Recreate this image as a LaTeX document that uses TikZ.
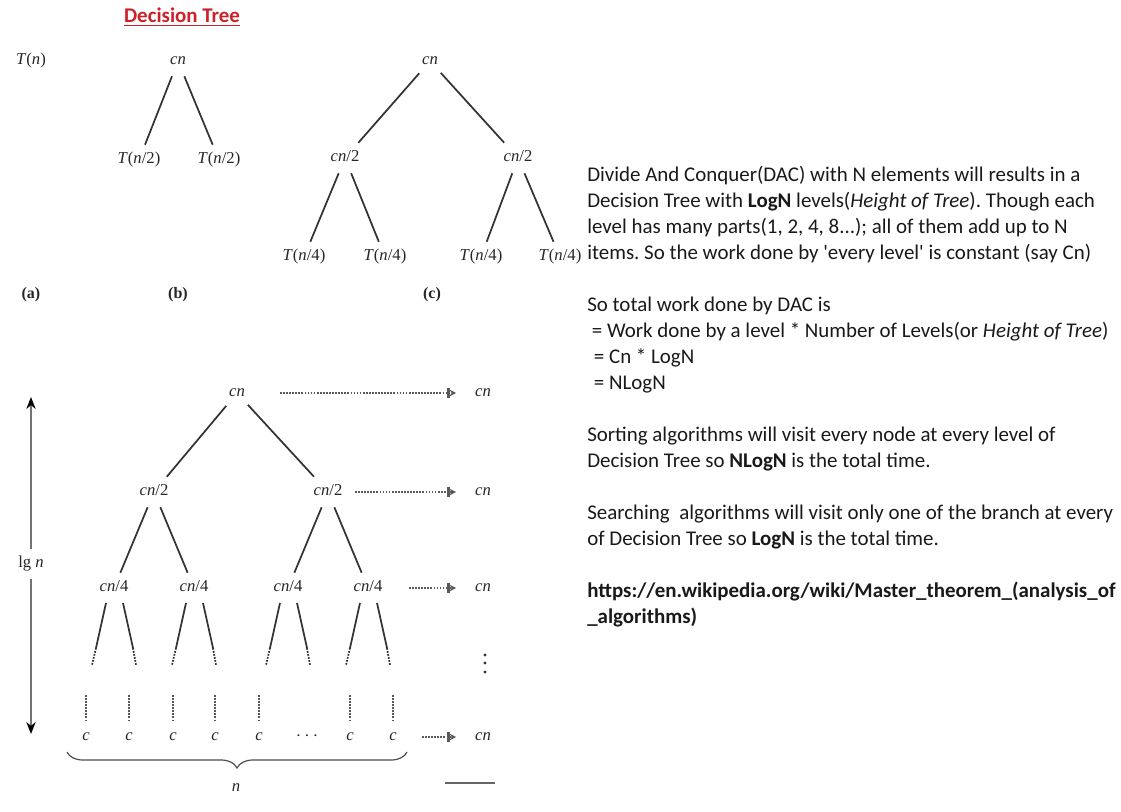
\documentclass[tikz,border=0pt]{standalone}
\usepackage{fontspec}
\setmainfont{Carlito}
\newfontfamily\tms{Liberation Serif}
\usetikzlibrary{arrows.meta, positioning, calc, decorations.pathreplacing}
\definecolor{titlered}{RGB}{204,33,40}
\frenchspacing

\begin{document}
\begin{tikzpicture}[x=0.75pt, y=-0.75pt, >=Stealth,
		lbl/.style={font=\tms\fontsize{12.5}{14}\selectfont, text height=8pt, text depth=2.5pt, inner xsep=2pt, inner ysep=6pt, text=black!85},
		caption/.style={font=\tms\bfseries\fontsize{12}{14}\selectfont, text=black!85},
		edge/.style={draw=black!80, line width=1.3pt},
		sumarrow/.style={draw=black!65, densely dotted, line width=1.3pt, shorten >=12pt,
			-{Bar[width=7pt,line width=0.8pt]Bar[width=7pt,line width=0.8pt]Stealth[length=5pt,width=5pt]}},
		txt/.style={font=\fontsize{15.7}{19.5}\selectfont, align=left, anchor=base west, inner sep=0pt, text=black!90}]
		
		\useasboundingbox (0,0) rectangle (1121,811);
		
		% Title
		\node[font=\bfseries\fontsize{15.7}{19}\selectfont, text=titlered] (title) at (182,17) {\underline{Decision Tree}};
		
		% (a) and (b)
		\node[lbl] (a_T) at (31,61) {\textit{T}(\textit{n})};
		\node[lbl] (b_cn) at (178,61) {\textit{cn}};
		\node[lbl] (b_l) at (139,160) {\textit{T}(\textit{n}/2)};
		\node[lbl] (b_r) at (219,160) {\textit{T}(\textit{n}/2)};
		
		% (c)
		\node[lbl] (c_cn) at (430,61) {\textit{cn}};
		\node[lbl] (c_l) at (345,158) {\textit{cn}/2};
		\node[lbl] (c_r) at (518,158) {\textit{cn}/2};
		\node[lbl] (c_ll) at (304,257) {\textit{T}(\textit{n}/4)};
		\node[lbl] (c_lr) at (385,257) {\textit{T}(\textit{n}/4)};
		\node[lbl] (c_rl) at (481,257) {\textit{T}(\textit{n}/4)};
		\node[lbl] (c_rr) at (560,257) {\textit{T}(\textit{n}/4)};
		
		\node[caption] (cap_a) at (31,295) {(a)};
		\node[caption] (cap_b) at (178,295) {(b)};
		\node[caption] (cap_c) at (432,295) {(c)};
		
		\draw[edge] (b_cn) -- (b_l);
		\draw[edge] (b_cn) -- (b_r);
		\draw[edge] (c_cn) -- (c_l);
		\draw[edge] (c_cn) -- (c_r);
		\draw[edge] (c_l) -- (c_ll);
		\draw[edge] (c_l) -- (c_lr);
		\draw[edge] (c_r) -- (c_rl);
		\draw[edge] (c_r) -- (c_rr);
		
		% (d) recursion tree
		\node[lbl] (d_cn) at (237,393) {\textit{cn}};
		\node[lbl] (d_l) at (154,492) {\textit{cn}/2};
		\node[lbl] (d_r) at (328,492) {\textit{cn}/2};
		\foreach \x [count=\i] in {114,194,288,368}
			\node[lbl] (q\i) at (\x,588) {\textit{cn}/4};
		\foreach \x [count=\i] in {86,129,173,215,259,350,393}
			\node[lbl] (k\i) at (\x,737) {\textit{c}};
		\node[lbl, font=\fontsize{15}{15}\selectfont] (kdots) at (307,737) {$\cdots$};
		
		\draw[edge] (d_cn) -- (d_l);
		\draw[edge] (d_cn) -- (d_r);
		\draw[edge] (d_l) -- (q1);
		\draw[edge] (d_l) -- (q2);
		\draw[edge] (d_r) -- (q3);
		\draw[edge] (d_r) -- (q4);
		
		\foreach \i in {1,...,4}{
			\draw[edge] ($(q\i)+(-8,15)$) -- ($(q\i)+(-18,60)$);
			\draw[edge, densely dotted] ($(q\i)+(-18,60)$) -- ($(q\i)+(-22,77)$);
			\draw[edge] ($(q\i)+(9,15)$) -- ($(q\i)+(19,60)$);
			\draw[edge, densely dotted] ($(q\i)+(19,60)$) -- ($(q\i)+(22,77)$);
		}
		\foreach \i in {1,...,7}
			\draw[edge, draw=black!65, densely dotted] ($(k\i)+(0,-42)$) -- ($(k\i)+(0,-15)$);
		
		% Level sums
		\foreach \y [count=\i from 0] in {393,492,588,737}
			\node[lbl] (r\i) at (483,\y) {\textit{cn}};
		\coordinate (s0) at (280,393);
		\coordinate (s1) at (355,492);
		\coordinate (s2) at (409,588);
		\coordinate (s3) at (422,737);
		\foreach \i in {0,...,3}
			\draw[sumarrow] (s\i) -- (r\i);
		\foreach \y in {655,663,672}
			\fill[black!80] (485,\y) circle (1.6);
		\draw[black!60, line width=1.2pt] (445,783) -- (495,783);
		
		% Height arrow
		\node[lbl] (lgn) at (31,564) {lg \textit{n}};
		\coordinate (vtop) at (31,397);
		\coordinate (vbot) at (31,734);
		\draw[draw=black!55, line width=1pt, -{Stealth[length=9pt,width=7pt,black]}] (lgn) -- (vtop);
		\draw[draw=black!55, line width=1pt, -{Stealth[length=9pt,width=7pt,black]}] (lgn) -- (vbot);
		
		% Leaves brace
		\coordinate (bl) at (67,752);
		\coordinate (br) at (407,752);
		\draw[black!70, line width=0.9pt, decorate, decoration={brace, mirror, amplitude=12pt}] (bl) -- (br);
		\node[lbl] (nn) at (236,788) {\textit{n}};
		
		% Notes
		\node[txt] (p1) at (587,259) {Divide And Conquer(DAC) with N elements will results in a\\
			Decision Tree with \textbf{LogN} levels(\textit{Height of Tree}). Though each\\
			level has many parts(1, 2, 4, 8...); all of them add up to N\\
			items. So the work done by \textquotesingle every level\textquotesingle\ is constant (say Cn)};
		\node[txt] (p2) at (587,389) {So total work done by DAC is\\
			\hspace*{3.5pt}= Work done by a level * Number of Levels(or \textit{Height of Tree})\\
			\hspace*{5pt}= Cn * LogN\\
			\hspace*{5pt}= NLogN};
		\node[txt] (p3) at (587,467) {Sorting algorithms will visit every node at every level of\\
			Decision Tree so \textbf{NLogN} is the total time.};
		\node[txt] (p4) at (587,545) {Searching\ \ algorithms will visit only one of the branch at every\\
			of Decision Tree so \textbf{LogN} is the total time.};
		\node[txt, font=\bfseries\fontsize{15.7}{19.5}\selectfont] (p5) at (587,623) {https://en.wikipedia.org/wiki/Master\_theorem\_(analysis\_of\\
			\_algorithms)};
		
	\end{tikzpicture}
\end{document}
